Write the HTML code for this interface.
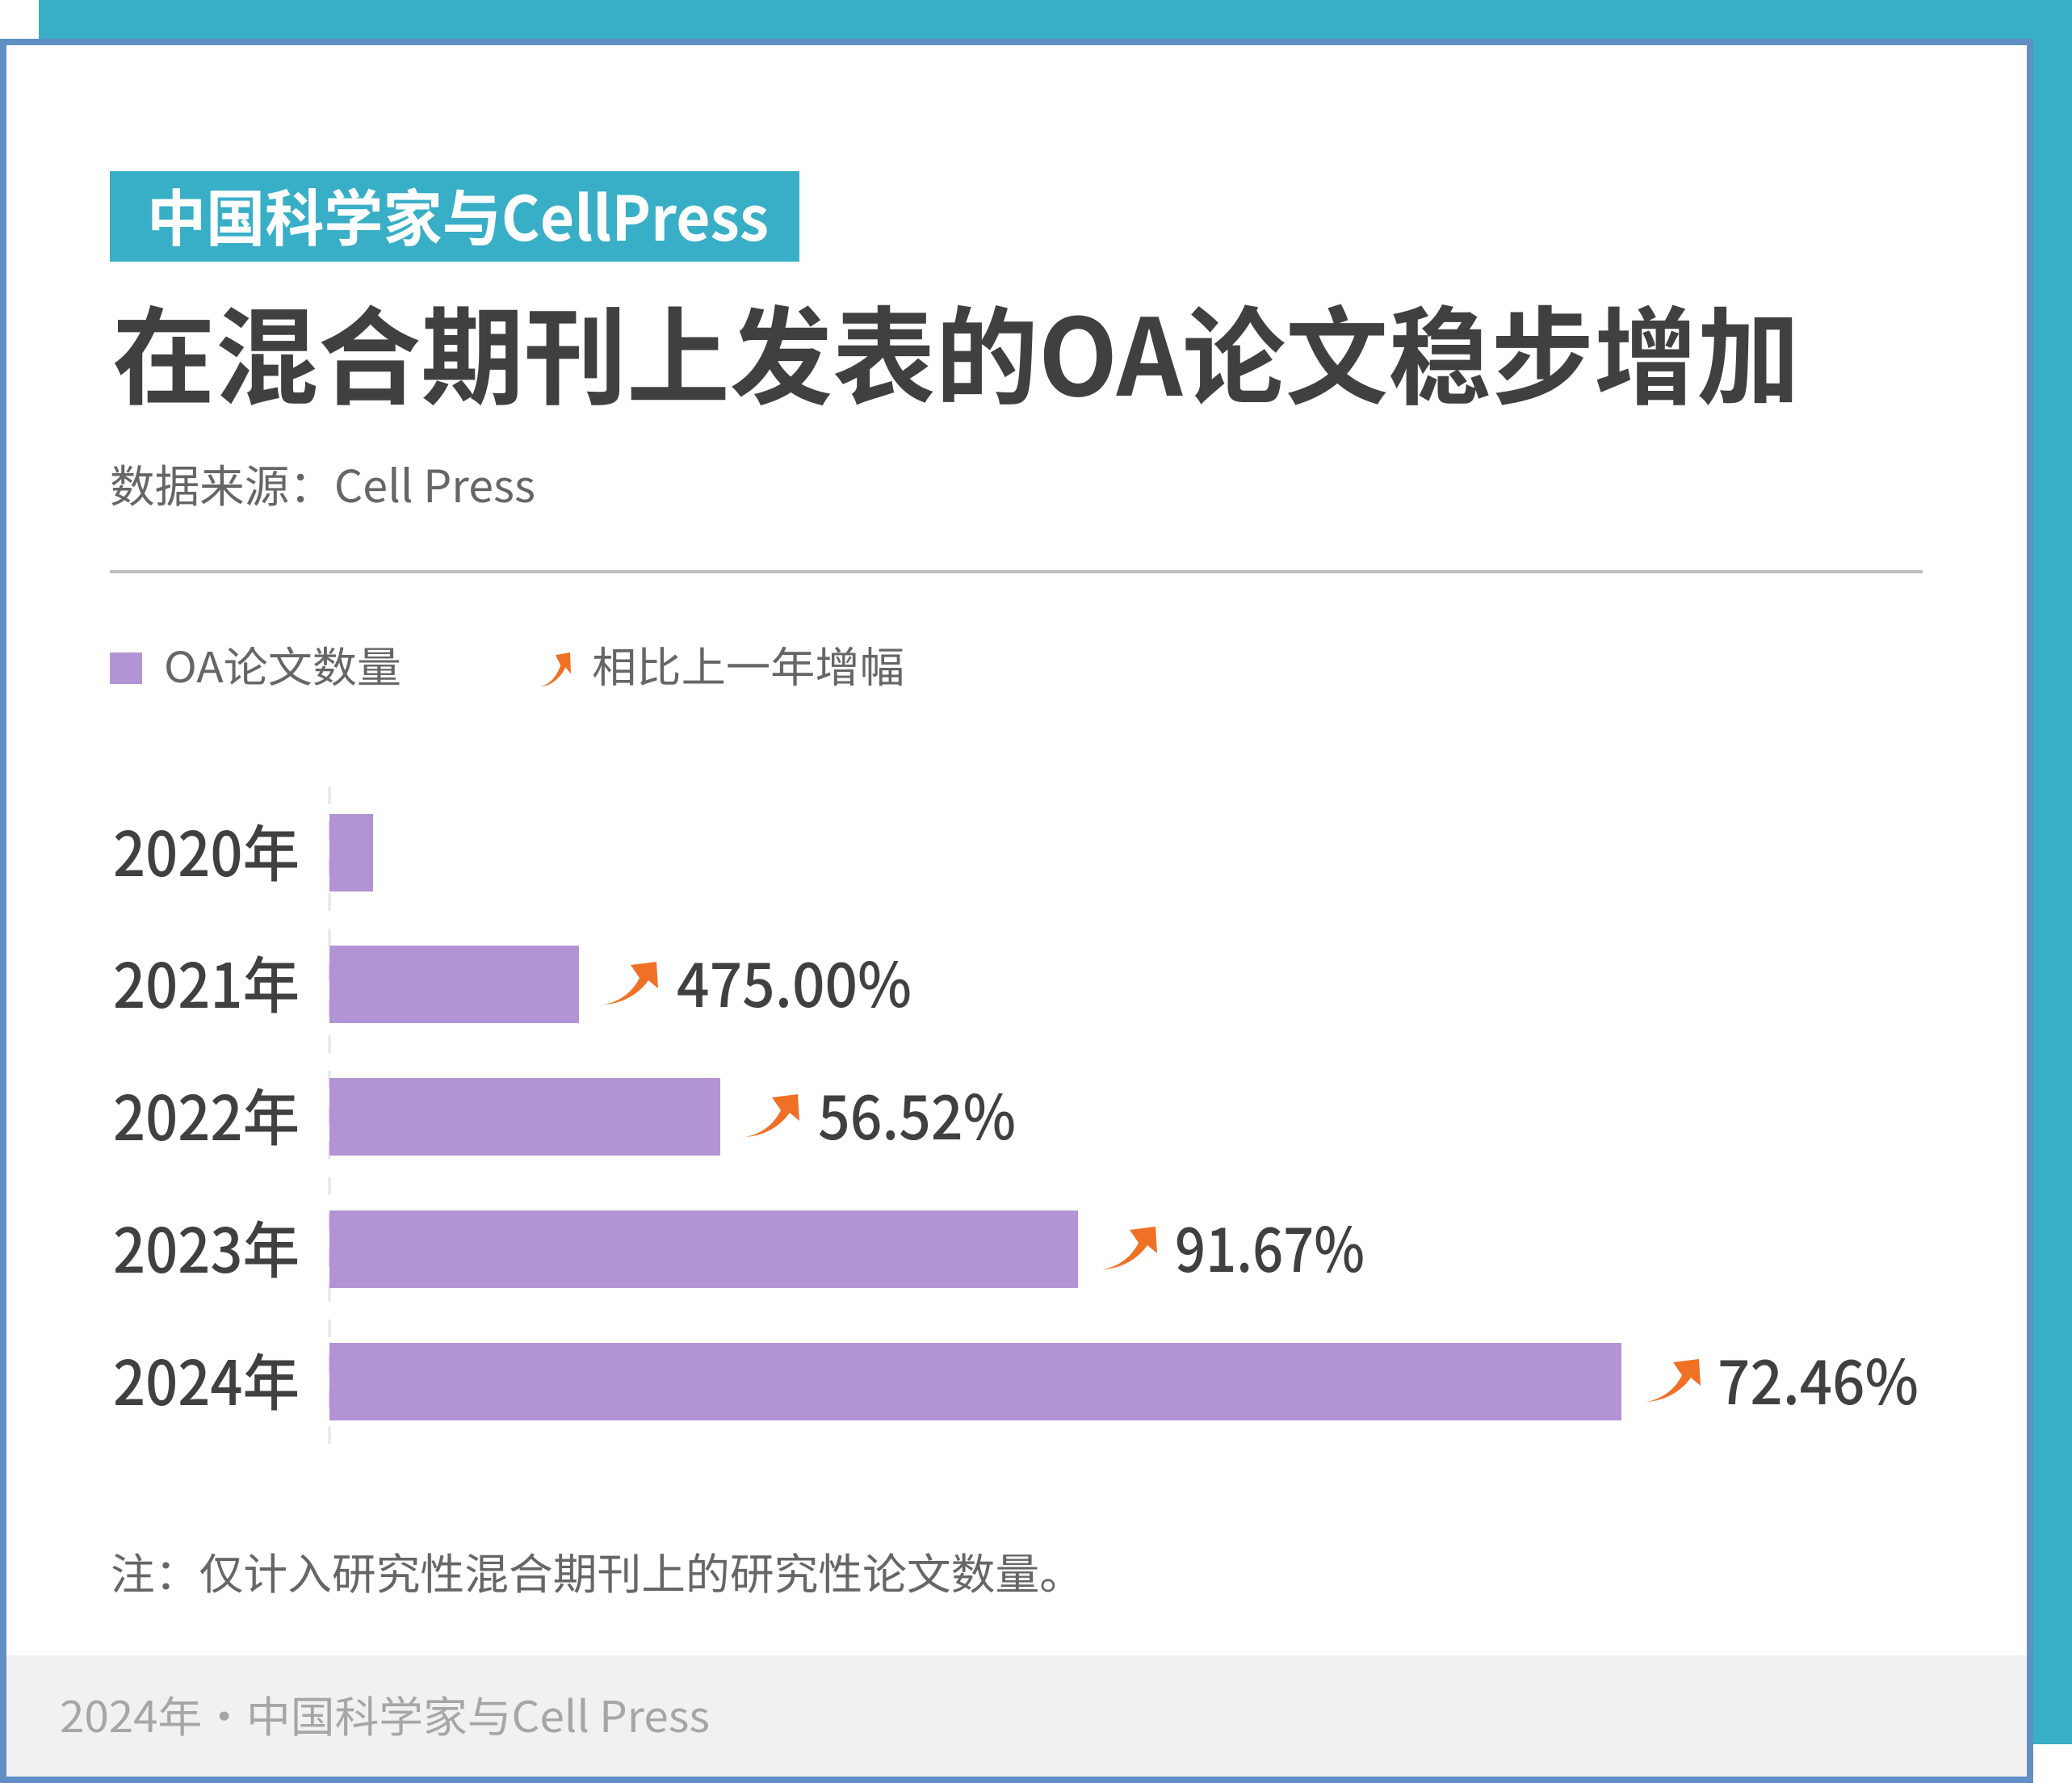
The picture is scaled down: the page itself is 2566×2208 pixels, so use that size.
<!DOCTYPE html>
<html><head><meta charset="utf-8"><style>
html,body{margin:0;padding:0;background:#fff;}
svg{display:block;}
text{font-family:"Liberation Sans","Noto Sans CJK SC",sans-serif;}
.cjk{font-family:"Noto Sans CJK SC","Liberation Sans",sans-serif;}
</style></head><body>
<svg width="2566" height="2208" viewBox="0 0 2566 2208" xmlns="http://www.w3.org/2000/svg">
<defs>
<path id="arr" d="M0,53 C20,50 36,38 45,20 L34,4 L66,0 L68,33 L56,23 C44,40 24,52 0,53 Z" fill="#f07026"/>
</defs>
<rect x="48" y="0" width="2518" height="2160" fill="#38aec7"/>
<rect x="0" y="48" width="2518" height="2160" fill="#5f8fc4"/>
<rect x="8" y="56" width="2502" height="2144" fill="#ffffff"/>
<rect x="8" y="2050" width="2502" height="150" fill="#f1f1f1"/>

<rect x="136" y="212" width="854" height="112" fill="#38aec7"/>
<text class="cjk" x="182" y="298" font-size="76" font-weight="bold" fill="#ffffff" textLength="770" lengthAdjust="spacingAndGlyphs">中国科学家与CellPress</text>

<text class="cjk" x="139" y="490" font-size="132" font-weight="bold" fill="#404040" textLength="2090" lengthAdjust="spacingAndGlyphs">在混合期刊上发表的OA论文稳步增加</text>

<text class="cjk" x="136" y="622" font-size="55" fill="#666666" textLength="527" lengthAdjust="spacingAndGlyphs">数据来源：Cell Press</text>

<rect x="136" y="706" width="2245" height="4" fill="#bfbfbf"/>

<rect x="136" y="808" width="40" height="39" fill="#b293d3"/>
<text class="cjk" x="203" y="845" font-size="52" fill="#666666" textLength="294" lengthAdjust="spacingAndGlyphs">OA论文数量</text>
<use href="#arr" transform="translate(669,808) scale(0.56,0.8)"/>
<text class="cjk" x="733" y="845" font-size="52" fill="#666666" textLength="387" lengthAdjust="spacingAndGlyphs">相比上一年增幅</text>

<line x1="408" y1="974" x2="408" y2="1792" stroke="#e6e6e6" stroke-width="3" stroke-dasharray="22,22"/>

<g font-size="76" fill="#404040" font-weight="500">
<text class="cjk" x="140" y="1085" textLength="231" lengthAdjust="spacingAndGlyphs">2020年</text>
<text class="cjk" x="140" y="1248" textLength="231" lengthAdjust="spacingAndGlyphs">2021年</text>
<text class="cjk" x="140" y="1412" textLength="231" lengthAdjust="spacingAndGlyphs">2022年</text>
<text class="cjk" x="140" y="1576" textLength="231" lengthAdjust="spacingAndGlyphs">2023年</text>
<text class="cjk" x="140" y="1740" textLength="231" lengthAdjust="spacingAndGlyphs">2024年</text>
</g>

<g fill="#b293d3">
<rect x="408" y="1008" width="54" height="96"/>
<rect x="408" y="1171" width="309" height="96"/>
<rect x="408" y="1335" width="484" height="96"/>
<rect x="408" y="1499" width="927" height="96"/>
<rect x="408" y="1663" width="1600" height="96"/>
</g>

<g font-size="76" fill="#404040" font-weight="500">
<use href="#arr" transform="translate(747,1191)"/>
<text class="cjk" x="838" y="1247" textLength="291" lengthAdjust="spacingAndGlyphs">475.00%</text>
<use href="#arr" transform="translate(922,1355)"/>
<text class="cjk" x="1013" y="1411" textLength="245" lengthAdjust="spacingAndGlyphs">56.52%</text>
<use href="#arr" transform="translate(1365,1519)"/>
<text class="cjk" x="1455" y="1575" textLength="235" lengthAdjust="spacingAndGlyphs">91.67%</text>
<use href="#arr" transform="translate(2038,1683)"/>
<text class="cjk" x="2127" y="1739" textLength="249" lengthAdjust="spacingAndGlyphs">72.46%</text>
</g>

<text class="cjk" x="137" y="1968" font-size="53" fill="#666666" textLength="1205" lengthAdjust="spacingAndGlyphs">注：仅计入研究性混合期刊上的研究性论文数量。</text>

<text class="cjk" x="74" y="2145" font-size="53" fill="#a6a6a6" textLength="805" lengthAdjust="spacingAndGlyphs">2024年·中国科学家与Cell Press</text>
</svg>
</body></html>
